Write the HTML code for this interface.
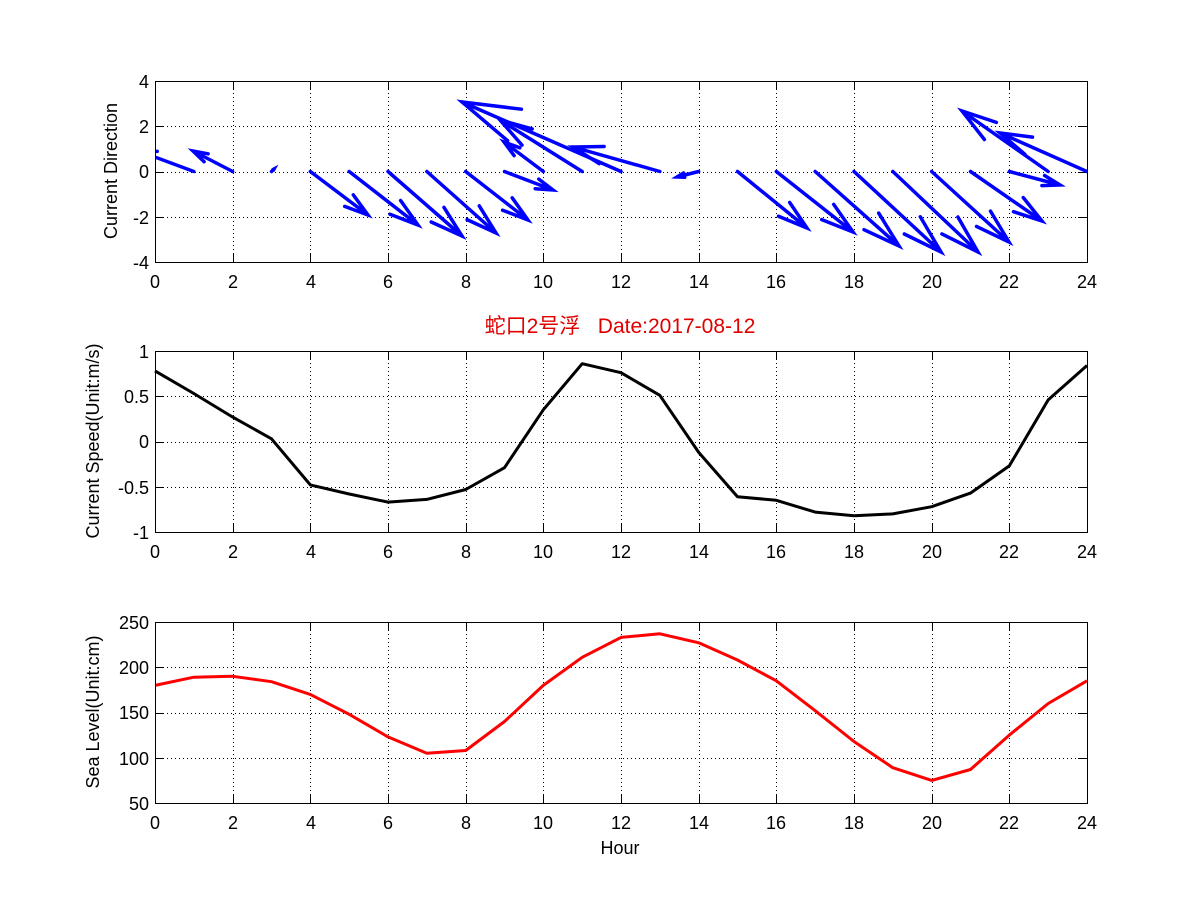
<!DOCTYPE html>
<html><head><meta charset="utf-8"><style>
html,body{margin:0;padding:0;background:#fff;}
svg{display:block;}
text{font-family:"Liberation Sans","Noto Sans CJK SC",sans-serif;font-size:18px;fill:#000;}
</style></head><body>
<svg id="s" width="1201" height="901" viewBox="0 0 1201 901" xmlns="http://www.w3.org/2000/svg">
<rect width="1201" height="901" fill="#fff"/>
<g id="grid" stroke="#000" stroke-width="1" stroke-dasharray="1,3" fill="none"></g>
<g id="ticks" stroke="#000" stroke-width="1" fill="none"></g>
<g id="data"></g>
<g fill="none" stroke="#000" stroke-width="1">
<rect x="155.5" y="81.5" width="932" height="181"/>
<rect x="155.5" y="351.5" width="932" height="181"/>
<rect x="155.5" y="622.5" width="932" height="181"/>
</g>
<g text-anchor="middle">
<g transform="translate(0,288)"><text x="155">0</text><text x="233">2</text><text x="311">4</text><text x="388">6</text><text x="466">8</text><text x="543">10</text><text x="621">12</text><text x="699">14</text><text x="776">16</text><text x="854">18</text><text x="932">20</text><text x="1009">22</text><text x="1087">24</text></g>
<g transform="translate(0,558)"><text x="155">0</text><text x="233">2</text><text x="311">4</text><text x="388">6</text><text x="466">8</text><text x="543">10</text><text x="621">12</text><text x="699">14</text><text x="776">16</text><text x="854">18</text><text x="932">20</text><text x="1009">22</text><text x="1087">24</text></g>
<g transform="translate(0,829)"><text x="155">0</text><text x="233">2</text><text x="311">4</text><text x="388">6</text><text x="466">8</text><text x="543">10</text><text x="621">12</text><text x="699">14</text><text x="776">16</text><text x="854">18</text><text x="932">20</text><text x="1009">22</text><text x="1087">24</text></g>
<text x="620" y="854">Hour</text>
</g>
<g text-anchor="end">
<text x="149" y="88">4</text><text x="149" y="133">2</text><text x="149" y="178">0</text><text x="149" y="224">-2</text><text x="149" y="269">-4</text>
<text x="149" y="358">1</text><text x="149" y="403">0.5</text><text x="149" y="448">0</text><text x="149" y="494">-0.5</text><text x="149" y="539">-1</text>
<text x="149" y="629">250</text><text x="149" y="674">200</text><text x="149" y="719">150</text><text x="149" y="765">100</text><text x="149" y="810">50</text>
</g>
<g text-anchor="middle">
<text transform="translate(117,171) rotate(-90)">Current Direction</text>
<text transform="translate(99,441) rotate(-90)">Current Speed(Unit:m/s)</text>
<text transform="translate(99,712) rotate(-90)">Sea Level(Unit:cm)</text>
<text x="620" y="333" style="fill:#e00000;font-size:21px;" xml:space="preserve">蛇口2号浮   Date:2017-08-12</text>
</g>
</svg>
<script>
var NS="http://www.w3.org/2000/svg";
function X(h){return 155+h*932/24;}
function el(p,t,a){var e=document.createElementNS(NS,t);for(var k in a)e.setAttribute(k,a[k]);p.appendChild(e);return e;}
var grid=document.getElementById('grid'),ticks=document.getElementById('ticks'),data=document.getElementById('data');
var axes=[[81,262,[126.25,171.5,216.75]],[351,532,[396.25,441.5,486.75]],[622,803,[667.25,712.5,757.75]]];
axes.forEach(function(a){
 var t=a[0],b=a[1];
 for(var h=2;h<24;h+=2){var x=Math.round(X(h))+0.5;
  el(grid,'line',{x1:x,y1:t,x2:x,y2:b});
  el(ticks,'line',{x1:x,y1:b,x2:x,y2:b-9});el(ticks,'line',{x1:x,y1:t,x2:x,y2:t+9});}
 a[2].forEach(function(y){y=Math.round(y)+0.5;
  el(grid,'line',{x1:155,y1:y,x2:1087,y2:y});
  el(ticks,'line',{x1:155,y1:y,x2:164,y2:y});el(ticks,'line',{x1:1087,y1:y,x2:1078,y2:y});});
});
var sp=[0.78,0.53,0.27,0.03,-0.48,-0.58,-0.67,-0.64,-0.53,-0.29,0.35,0.86,0.76,0.51,-0.12,-0.61,-0.65,-0.78,-0.82,-0.80,-0.72,-0.57,-0.27,0.46,0.84];
var pts=sp.map(function(v,i){return X(i).toFixed(1)+','+(441.5-90.5*v).toFixed(1);}).join(' ');
el(data,'polyline',{points:pts,fill:'none',stroke:'#000','stroke-width':3,'stroke-linejoin':'round'});
var sl=[180,189,190,184,170,148,123,105,108,140,180,211,233,237,227,208,185,152,118,89,75,87,125,160,185];
pts=sl.map(function(v,i){return X(i).toFixed(1)+','+(803-(v-50)*0.905).toFixed(1);}).join(' ');
el(data,'polyline',{points:pts,fill:'none',stroke:'#f00','stroke-width':3,'stroke-linejoin':'round'});
var cp=el(document.getElementById('s'),'clipPath',{id:'cp'});el(cp,'rect',{x:155,y:81,width:932,height:181});
var q=el(data,'g',{'clip-path':'url(#cp)',stroke:'#0000ff','stroke-width':3.5,fill:'none','stroke-linecap':'round'});
var tips={1:[136,150],2:[193,151],3:[274,169],4:[368,215],5:[418,225],6:[462,236],7:[496,233],8:[528,220],9:[553,190],10:[504,142],11:[500,120],12:[462,102],13:[573,147],14:[677,177],15:[807,228],16:[853,232],17:[899,246],18:[941,252],19:[978,252],20:[1009,242],21:[1042,221],22:[1060,185],23:[962,111],24:[1000,133]};
for(var h in tips){var bx=X(+h),by=171.5,tx=tips[h][0],ty=tips[h][1];
 var ux=tx-bx,uy=ty-by;
 var p1x=tx-0.33*(ux+0.3*uy),p1y=ty-0.33*(uy-0.3*ux);
 var p2x=tx-0.33*(ux-0.3*uy),p2y=ty-0.33*(uy+0.3*ux);
 el(q,'path',{d:'M'+bx+' '+by+'L'+tx+' '+ty+'M'+p1x.toFixed(1)+' '+p1y.toFixed(1)+'L'+tx+' '+ty+'L'+p2x.toFixed(1)+' '+p2y.toFixed(1)});}
</script>
</body></html>
